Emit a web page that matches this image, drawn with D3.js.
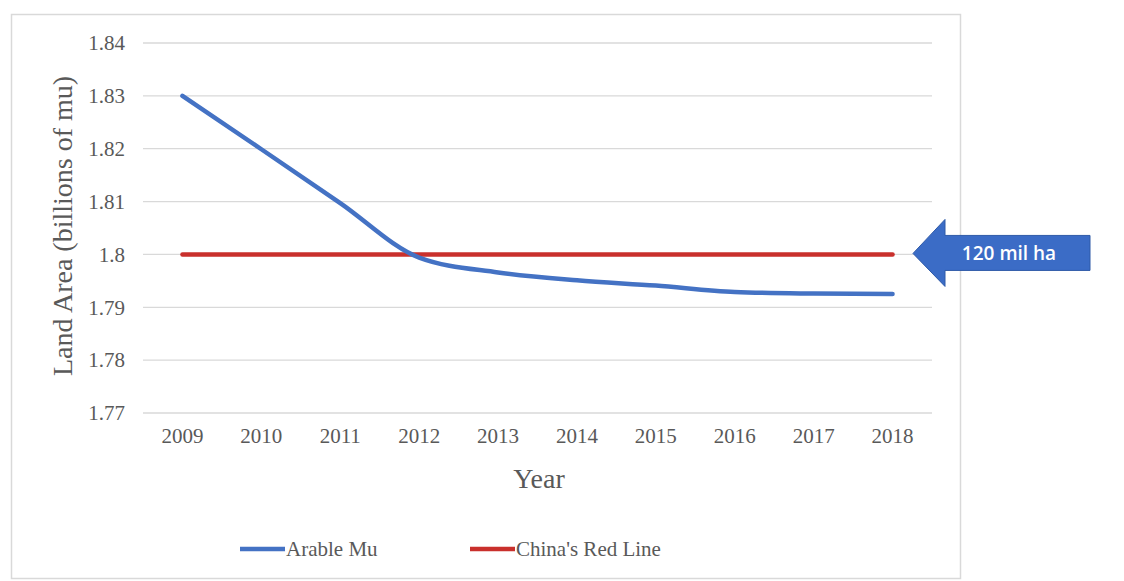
<!DOCTYPE html>
<html>
<head>
<meta charset="utf-8">
<script src="https://cdn.jsdelivr.net/npm/d3@7"></script>
<style>
  html, body { margin: 0; padding: 0; background: #ffffff; }
  svg { display: block; }
</style>
</head>
<body>
<svg id="chart" width="1124" height="581"></svg>
<script>
// Arable land in China vs. the 1.8 billion mu "red line"
const years = ["2009", "2010", "2011", "2012", "2013", "2014", "2015", "2016", "2017", "2018"];
const arableMu = [1.830, 1.8199, 1.8097, 1.7994, 1.7966, 1.7951, 1.7941, 1.7929, 1.7926, 1.7925];
const redLine = [1.8, 1.8, 1.8, 1.8, 1.8, 1.8, 1.8, 1.8, 1.8, 1.8];
const yTicks = [1.77, 1.78, 1.79, 1.80, 1.81, 1.82, 1.83, 1.84];
const seriesNames = ["Arable Mu", "China's Red Line"];
const calloutText = "120 mil ha";

const svg = d3.select("#chart");
const serif = "'Liberation Serif', 'Times New Roman', serif";
const blue = "#4472c4";
const red = "#c9302c";
const grey = "#595959";

// chart frame
svg.append("rect")
  .attr("x", 11.5).attr("y", 14.5).attr("width", 949).attr("height", 564)
  .attr("fill", "#fff").attr("stroke", "#d9d9d9").attr("stroke-width", 1.5);

const x = d3.scaleBand().domain(years).range([143, 932]);
const y = d3.scaleLinear().domain([1.77, 1.84]).range([413, 43]);
const cx = d => x(d) + x.bandwidth() / 2;

// horizontal gridlines
svg.append("g").selectAll("line").data(yTicks).join("line")
  .attr("x1", 143).attr("x2", 932)
  .attr("y1", d => y(d)).attr("y2", d => y(d))
  .attr("stroke", "#d9d9d9").attr("stroke-width", 1.3);

// y axis labels
const yAxis = d3.axisLeft(y).tickValues(yTicks).tickSize(0).tickPadding(0)
  .tickFormat(d => d3.format("")(+d.toFixed(2)));
const gy = svg.append("g").attr("transform", "translate(125,0)").call(yAxis);
gy.select(".domain").remove();
gy.selectAll("text").attr("font-family", serif).attr("font-size", 21).attr("fill", grey);

// x axis labels
const xAxis = d3.axisBottom(x).tickSize(0).tickPadding(0);
const gx = svg.append("g").attr("transform", "translate(0,428)").call(xAxis);
gx.select(".domain").remove();
gx.selectAll("text").attr("font-family", serif).attr("font-size", 21).attr("fill", grey);

// axis titles
svg.append("text")
  .attr("x", 539).attr("y", 488).attr("text-anchor", "middle")
  .attr("font-family", serif).attr("font-size", 28).attr("fill", grey)
  .text("Year");
svg.append("text")
  .attr("transform", "translate(72,226) rotate(-90)").attr("text-anchor", "middle")
  .attr("font-family", serif).attr("font-size", 28).attr("fill", grey)
  .text("Land Area (billions of mu)");

// series lines
const lineGen = d3.line().x((d, i) => cx(years[i])).y(d => y(d)).curve(d3.curveMonotoneX);
svg.append("path").datum(redLine)
  .attr("d", lineGen).attr("fill", "none").attr("stroke", red)
  .attr("stroke-width", 4.5).attr("stroke-linecap", "round");
svg.append("path").datum(arableMu)
  .attr("d", lineGen).attr("fill", "none").attr("stroke", blue)
  .attr("stroke-width", 4.5).attr("stroke-linecap", "round");

// legend
const legend = svg.append("g");
const legendItems = [
  { name: seriesNames[0], color: blue, x: 240 },
  { name: seriesNames[1], color: red, x: 470 }
];
legendItems.forEach(it => {
  legend.append("line")
    .attr("x1", it.x).attr("x2", it.x + 45).attr("y1", 549).attr("y2", 549)
    .attr("stroke", it.color).attr("stroke-width", 4.5);
  legend.append("text")
    .attr("x", it.x + 46).attr("y", 556)
    .attr("font-family", serif).attr("font-size", 21).attr("fill", grey)
    .text(it.name);
});

// callout arrow pointing at the 1.8 line
const tipX = 913, tipY = y(redLine[redLine.length - 1]) - 1;
const arrow = d3.path();
arrow.moveTo(tipX, tipY);
arrow.lineTo(945, tipY - 34);
arrow.lineTo(945, tipY - 18);
arrow.lineTo(1090, tipY - 18);
arrow.lineTo(1090, tipY + 17);
arrow.lineTo(945, tipY + 17);
arrow.lineTo(945, tipY + 33);
arrow.closePath();
svg.append("path").attr("d", arrow.toString())
  .attr("fill", "#3b6cc6").attr("stroke", "#2f5aa8").attr("stroke-width", 1);
svg.append("text")
  .attr("x", 1009).attr("y", tipY + 7).attr("text-anchor", "middle")
  .attr("font-family", "'Open Sans', 'Noto Sans', sans-serif").attr("font-size", 19)
  .attr("font-weight", 600)
  .attr("fill", "#ffffff")
  .text(calloutText);
</script>
</body>
</html>
